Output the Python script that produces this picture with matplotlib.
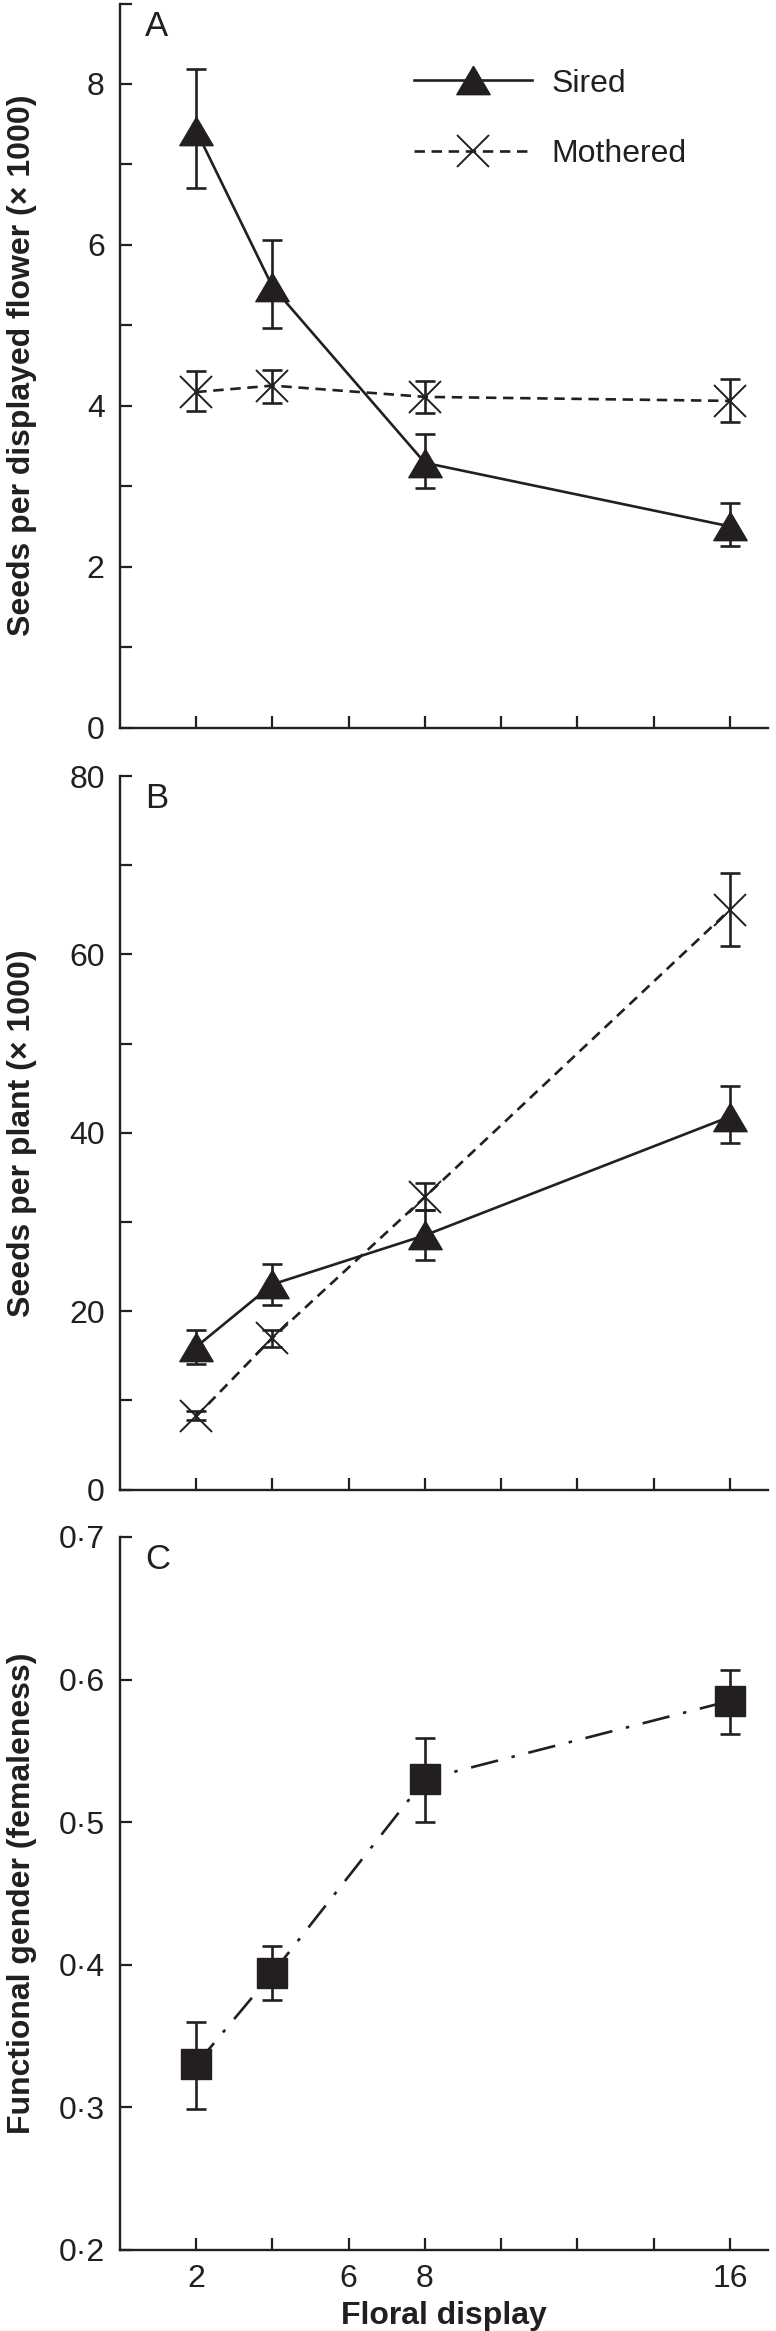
import matplotlib
matplotlib.use("Agg")
import matplotlib.pyplot as plt
import numpy as np

plt.rcParams['font.family'] = ['Liberation Sans', 'DejaVu Sans']
plt.rcParams['lines.scale_dashes'] = False

# ---------------- data ----------------
floral_display = [2, 4, 8, 16]

# Panel A: seeds per displayed flower (x 1000)
a_sired = [7.42, 5.48, 3.29, 2.50]
a_sired_hi = [8.18, 6.06, 3.65, 2.79]
a_sired_lo = [6.71, 4.96, 2.98, 2.26]
a_moth = [4.17, 4.25, 4.11, 4.06]
a_moth_hi = [4.43, 4.45, 4.31, 4.33]
a_moth_lo = [3.93, 4.04, 3.91, 3.80]

# Panel B: seeds per plant (x 1000)
b_sired = [16.0, 23.0, 28.5, 41.8]
b_sired_hi = [17.9, 25.3, 31.3, 45.2]
b_sired_lo = [14.1, 20.7, 25.7, 38.9]
b_moth = [8.2, 17.0, 32.8, 65.0]
b_moth_hi = [8.8, 17.9, 34.4, 69.1]
b_moth_lo = [7.8, 16.0, 31.3, 60.9]

# Panel C: functional gender (femaleness)
c_gender = [0.330, 0.394, 0.530, 0.585]
c_gender_hi = [0.360, 0.413, 0.559, 0.607]
c_gender_lo = [0.299, 0.375, 0.500, 0.562]

series_labels = ['Sired', 'Mothered']
panel_letters = ['A', 'B', 'C']
ylabels = ['Seeds per displayed flower (× 1000)',
           'Seeds per plant (× 1000)',
           'Functional gender (femaleness)']
xlabel = 'Floral display'
x_ticks = [2, 4, 6, 8, 10, 12, 14, 16]
x_ticklabels_c = ['2', '', '6', '8', '', '', '', '16']
a_yticks = [0, 1, 2, 3, 4, 5, 6, 7, 8, 9]
a_yticklabels = ['0', '', '2', '', '4', '', '6', '', '8', '']
b_yticks = [0, 10, 20, 30, 40, 50, 60, 70, 80]
b_yticklabels = ['0', '', '20', '', '40', '', '60', '', '80']
c_yticks = [0.2, 0.3, 0.4, 0.5, 0.6, 0.7]
c_yticklabels = ['0·2', '0·3', '0·4', '0·5', '0·6', '0·7']

# ---------------- style ----------------
INK = '#231f20'
LW = 1.9
FS = 23
tri = [(0, 0.85), (-1, -0.85), (1, -0.85), (0, 0.85)]

W, H = 776, 2331
fig = plt.figure(figsize=(W / 100, H / 100), dpi=100)

left_px, right_px = 120, 768
panels_px = [(3.5, 727.5), (776, 1489.5), (1537, 2249.7)]
axes = []
for top, bot in panels_px:
    ax = fig.add_axes([left_px / W, 1 - bot / H, (right_px - left_px) / W, (bot - top) / H])
    axes.append(ax)


def style(ax):
    for s in ['top', 'right']:
        ax.spines[s].set_visible(False)
    for s in ['left', 'bottom']:
        ax.spines[s].set_linewidth(1.7)
        ax.spines[s].set_color(INK)
    ax.tick_params(direction='in', length=8.5, width=1.6, color=INK,
                   labelsize=FS, labelcolor=INK)
    ax.tick_params(axis='y', pad=11)
    ax.tick_params(axis='x', pad=10)
    ax.set_xlim(0, 17)
    ax.set_xticks(x_ticks)


def errs(v, lo, hi):
    v = np.asarray(v); lo = np.asarray(lo); hi = np.asarray(hi)
    return np.vstack([v - lo, hi - v])


eb_kw = dict(fmt='none', ecolor=INK, elinewidth=LW, capsize=7, capthick=LW, zorder=3)
sired_kw = dict(color=INK, lw=LW, ls='-', marker=tri, ms=24, mfc=INK, mec=INK, mew=1.0, zorder=2)
moth_kw = dict(color=INK, lw=LW, ls=(0, (7.5, 4.8)), marker='x', ms=22.5, mec=INK, mew=1.4, zorder=2)

# Panel A
ax = axes[0]
style(ax)
ax.set_ylim(0, 9)
ax.set_yticks(a_yticks)
ax.set_yticklabels(a_yticklabels)
ax.set_xticklabels([])
ls, = ax.plot(floral_display, a_sired, label=series_labels[0], **sired_kw)
lm, = ax.plot(floral_display, a_moth, label=series_labels[1], **moth_kw)
ax.errorbar(floral_display, a_sired, yerr=errs(a_sired, a_sired_lo, a_sired_hi), **eb_kw)
ax.errorbar(floral_display, a_moth, yerr=errs(a_moth, a_moth_lo, a_moth_hi), **eb_kw)
leg = ax.legend(handles=[ls, lm], loc='upper left', bbox_to_anchor=(0.4537, 0.910),
                frameon=False, fontsize=FS, borderpad=0, borderaxespad=0,
                handlelength=3.7, handletextpad=0.6, labelspacing=1.26)
for t in leg.get_texts():
    t.set_color(INK)

# Panel B
ax = axes[1]
style(ax)
ax.set_ylim(0, 80)
ax.set_yticks(b_yticks)
ax.set_yticklabels(b_yticklabels)
ax.set_xticklabels([])
ax.plot(floral_display, b_sired, **sired_kw)
ax.plot(floral_display, b_moth, **moth_kw)
ax.errorbar(floral_display, b_sired, yerr=errs(b_sired, b_sired_lo, b_sired_hi), **eb_kw)
ax.errorbar(floral_display, b_moth, yerr=errs(b_moth, b_moth_lo, b_moth_hi), **eb_kw)

# Panel C
ax = axes[2]
style(ax)
ax.set_ylim(0.2, 0.7)
ax.set_yticks(c_yticks)
ax.set_yticklabels(c_yticklabels)
ax.set_xticklabels(x_ticklabels_c)
ax.plot(floral_display, c_gender, color=INK, lw=LW, ls=(0, (20, 10, 2.5, 10)),
        marker='s', ms=21, mfc=INK, mec=INK, mew=1.0, zorder=2)
ax.errorbar(floral_display, c_gender, yerr=errs(c_gender, c_gender_lo, c_gender_hi), **eb_kw)
ax.set_xlabel(xlabel, fontsize=FS, fontweight='bold', color=INK)
ax.xaxis.set_label_coords(0.5, -0.072)
ax.xaxis.label.set_va('top')

for ax, letter, yl in zip(axes, panel_letters, ylabels):
    ax.text(0.039, 0.991, letter, transform=ax.transAxes, fontsize=25,
            ha='left', va='top', color=INK)
    ax.set_ylabel(yl, fontsize=FS, fontweight='bold', color=INK)
    ax.yaxis.set_label_coords(-0.128, 0.5)

fig.savefig('out.png', dpi=100)
